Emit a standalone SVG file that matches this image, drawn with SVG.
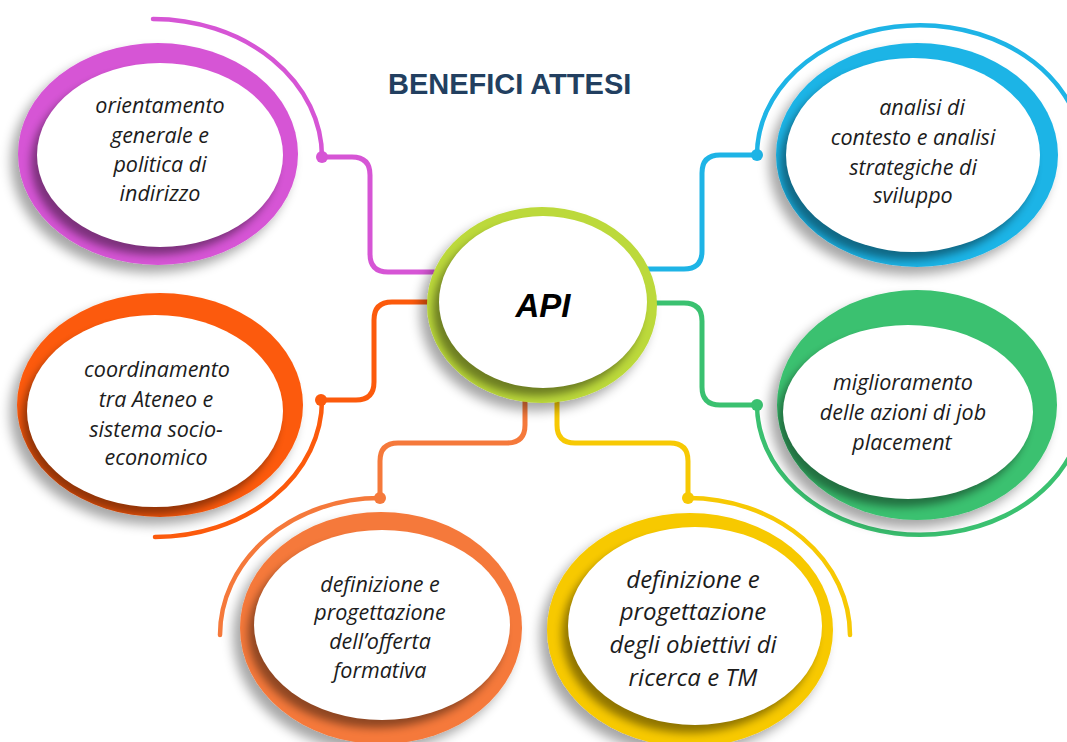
<svg xmlns="http://www.w3.org/2000/svg" width="1067" height="742" viewBox="0 0 1067 742">
<style>
.t{font-family:"Open Sans","Liberation Sans",sans-serif;font-style:italic;font-size:21.5px;fill:#1c1c1c;text-anchor:middle}
.t.ty{font-size:24px}
.thin{fill:none;stroke-width:4.5;stroke-linecap:round}
.con{fill:none;stroke-width:5;stroke-linecap:round;stroke-linejoin:round}
.white{fill:#ffffff}
.ish{fill:#000;opacity:0.42}
</style>
<defs>
<filter id="drop" x="-25%" y="-25%" width="150%" height="160%">
<feGaussianBlur in="SourceAlpha" stdDeviation="6"/>
<feOffset dx="-7" dy="8"/>
<feComponentTransfer><feFuncA type="linear" slope="0.35"/></feComponentTransfer>
<feMerge><feMergeNode/><feMergeNode in="SourceGraphic"/></feMerge>
</filter>
<filter id="blur" x="-20%" y="-20%" width="140%" height="140%"><feGaussianBlur stdDeviation="4"/></filter>
<clipPath id="c-pu"><ellipse cx="158" cy="154" rx="140" ry="111"/></clipPath>
<clipPath id="c-bl"><ellipse cx="917" cy="155" rx="141" ry="112"/></clipPath>
<clipPath id="c-or"><ellipse cx="160" cy="405" rx="143" ry="112"/></clipPath>
<clipPath id="c-gr"><ellipse cx="917" cy="405" rx="140" ry="115"/></clipPath>
<clipPath id="c-sa"><ellipse cx="381" cy="628" rx="141" ry="116"/></clipPath>
<clipPath id="c-ye"><ellipse cx="690" cy="630" rx="143" ry="117"/></clipPath>
<clipPath id="c-ce"><ellipse cx="542" cy="305" rx="115" ry="98"/></clipPath>
</defs>
<rect width="1067" height="742" fill="#ffffff"/>

<text x="388" y="94" font-family="Liberation Sans, Arial, sans-serif" font-weight="bold" font-size="29" fill="#223f60">BENEFICI ATTESI</text>

<g id="connectors">
<path class="thin" stroke="#d655d5" d="M153,19 A169,138 0 0 1 322,157"/>
<path class="con" stroke="#d655d5" d="M322,157 H352 Q370,157 370,175 V254 Q370,272 388,272 H440"/>
<circle cx="322" cy="157" r="6" fill="#d655d5"/>

<path class="thin" stroke="#1eb4e6" d="M757,155 A163,130 0 0 1 1075,115"/>
<path class="con" stroke="#1eb4e6" d="M757,155 H720 Q702,155 702,173 V251 Q702,269 684,269 H640"/>
<circle cx="757" cy="155" r="6" fill="#1eb4e6"/>

<path class="thin" stroke="#fc5a0c" d="M322,400 A167,137 0 0 1 155,537"/>
<path class="con" stroke="#fc5a0c" d="M321,400 H356 Q374,400 374,382 V320 Q374,302 392,302 H440"/>
<circle cx="321" cy="400" r="6" fill="#fc5a0c"/>

<path class="thin" stroke="#3ac170" d="M757,405 A163,130 0 0 0 1075,445"/>
<path class="con" stroke="#3ac170" d="M757,405 H720 Q702,405 702,387 V321 Q702,303 684,303 H645"/>
<circle cx="757" cy="405" r="6" fill="#3ac170"/>

<path class="thin" stroke="#f5793b" d="M380,498 A160,137 0 0 0 220,635"/>
<path class="con" stroke="#f5793b" d="M380,498 V461 Q380,443 398,443 H507 Q525,443 525,425 V395"/>
<circle cx="380" cy="498" r="6" fill="#f5793b"/>

<path class="thin" stroke="#f7c904" d="M688,498 A162,137 0 0 1 850,635"/>
<path class="con" stroke="#f7c904" d="M557,395 V425 Q557,443 575,443 H670 Q688,443 688,461 V498"/>
<circle cx="688" cy="498" r="6" fill="#f7c904"/>
</g>

<g id="node-orientamento">
<ellipse cx="158" cy="154" rx="140" ry="111" fill="#d655d5" filter="url(#drop)"/>
<ellipse class="ish" cx="154" cy="163" rx="123" ry="92" filter="url(#blur)" clip-path="url(#c-pu)"/>
<ellipse class="white" cx="160" cy="155" rx="123" ry="92"/>
<text class="t" x="160" y="113">orientamento</text>
<text class="t" x="160" y="143">generale e</text>
<text class="t" x="160" y="172">politica di</text>
<text class="t" x="160" y="201">indirizzo</text>
</g>

<g id="node-analisi">
<ellipse cx="917" cy="155" rx="141" ry="112" fill="#1eb4e6" filter="url(#drop)"/>
<ellipse class="ish" cx="907" cy="163" rx="127" ry="97" filter="url(#blur)" clip-path="url(#c-bl)"/>
<ellipse class="white" cx="913" cy="155" rx="127" ry="97"/>
<text class="t" x="922" y="115">analisi di</text>
<text class="t" x="913" y="145">contesto e analisi</text>
<text class="t" x="913" y="175">strategiche di</text>
<text class="t" x="913" y="203">sviluppo</text>
</g>

<g id="node-coordinamento">
<ellipse cx="160" cy="405" rx="143" ry="112" fill="#fc5a0c" filter="url(#drop)"/>
<ellipse class="ish" cx="150" cy="419" rx="128" ry="96" filter="url(#blur)" clip-path="url(#c-or)"/>
<ellipse class="white" cx="155" cy="411" rx="128" ry="96"/>
<text class="t" x="157" y="377">coordinamento</text>
<text class="t" x="156" y="407">tra Ateneo e</text>
<text class="t" x="156" y="437">sistema socio-</text>
<text class="t" x="156" y="465">economico</text>
</g>

<g id="node-placement">
<ellipse cx="917" cy="405" rx="140" ry="115" fill="#3ac170" filter="url(#drop)"/>
<ellipse class="ish" cx="902" cy="420" rx="125" ry="87" filter="url(#blur)" clip-path="url(#c-gr)"/>
<ellipse class="white" cx="908" cy="412" rx="125" ry="87"/>
<text class="t" x="903" y="390">miglioramento</text>
<text class="t" x="903" y="420">delle azioni di job</text>
<text class="t" x="902" y="450">placement</text>
</g>

<g id="node-offerta">
<ellipse cx="381" cy="628" rx="141" ry="116" fill="#f5793b" filter="url(#drop)"/>
<ellipse class="ish" cx="376" cy="633" rx="128" ry="95" filter="url(#blur)" clip-path="url(#c-sa)"/>
<ellipse class="white" cx="382" cy="625" rx="128" ry="95"/>
<text class="t" x="380" y="592">definizione e</text>
<text class="t" x="380" y="620">progettazione</text>
<text class="t" x="380" y="649">dell’offerta</text>
<text class="t" x="380" y="678">formativa</text>
</g>

<g id="node-ricerca">
<ellipse cx="690" cy="630" rx="143" ry="117" fill="#f7c904" filter="url(#drop)"/>
<ellipse class="ish" cx="689" cy="634" rx="127" ry="99" filter="url(#blur)" clip-path="url(#c-ye)"/>
<ellipse class="white" cx="695" cy="626" rx="127" ry="99"/>
<text class="t ty" x="693" y="588">definizione e</text>
<text class="t ty" x="693" y="620">progettazione</text>
<text class="t ty" x="693" y="653">degli obiettivi di</text>
<text class="t ty" x="693" y="686">ricerca e TM</text>
</g>

<g id="node-api">
<ellipse cx="542" cy="305" rx="115" ry="98" fill="#bcd93a" filter="url(#drop)"/>
<ellipse class="ish" cx="537" cy="310" rx="104" ry="86" filter="url(#blur)" clip-path="url(#c-ce)"/>
<ellipse class="white" cx="543" cy="302" rx="104" ry="86"/>
<text x="543" y="317" font-family="Liberation Sans, Arial, sans-serif" font-weight="bold" font-style="italic" font-size="33" fill="#000" text-anchor="middle">API</text>
</g>
</svg>
